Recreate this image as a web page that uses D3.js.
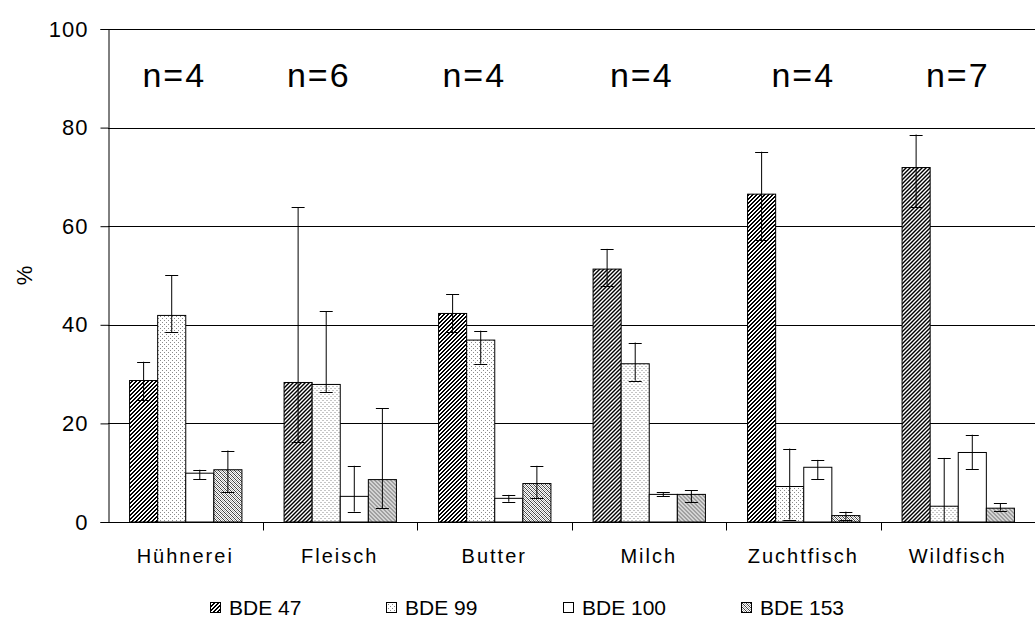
<!DOCTYPE html>
<html>
<head>
<meta charset="utf-8">
<script src="https://cdn.jsdelivr.net/npm/d3@7"></script>
<style>
  html, body { margin: 0; padding: 0; background: #fff; }
  svg { display: block; font-family: "Liberation Sans", Arial, sans-serif; }
</style>
</head>
<body>
<svg id="chart" width="1035" height="624"></svg>
<script>
// Food categories and congener series (share of total PBDE, %)
const categories = ["Hühnerei", "Fleisch", "Butter", "Milch", "Zuchtfisch", "Wildfisch"];
const series = ["BDE 47", "BDE 99", "BDE 100", "BDE 153"];
const sampleCounts = [4, 6, 4, 4, 4, 7];

const bde47 = [28.7, 28.3, 42.3, 51.3, 66.5, 71.9];
const bde47High = [32.5, 63.8, 46.2, 55.4, 75.1, 78.6];
const bde47Low = [24.7, 16.2, 38.5, 47.9, 57.2, 63.8];

const bde99 = [41.9, 27.9, 36.9, 32.1, 7.2, 3.2];
const bde99High = [50.1, 42.7, 38.8, 36.4, 14.9, 13.0];
const bde99Low = [38.5, 26.3, 32.1, 28.7, 0.5, 0];

const bde100 = [9.9, 5.2, 4.8, 5.6, 11.1, 14.1];
const bde100High = [10.6, 11.4, 5.5, 6.0, 12.6, 17.7];
const bde100Low = [8.7, 2.1, 4.1, 5.2, 8.7, 10.7];

const bde153 = [10.6, 8.6, 7.8, 5.6, 1.3, 2.8];
const bde153High = [14.5, 23.1, 11.4, 6.4, 2.1, 3.8];
const bde153Low = [6.0, 2.8, 4.8, 4.0, 0.5, 2.3];

const yTicks = [0, 20, 40, 60, 80, 100];

const seriesValues = [bde47, bde99, bde100, bde153];
const seriesHigh = [bde47High, bde99High, bde100High, bde153High];
const seriesLow = [bde47Low, bde99Low, bde100Low, bde153Low];

// horizontal nudges of the n= annotations, in px
const nLabelShift = [-11, -21, -20, -7, 0, 0];

const svg = d3.select("#chart");
const plotLeft = 108, plotRight = 1035, plotTop = 29, plotBottom = 522;

const x0 = d3.scaleBand().domain(categories).range([plotLeft, plotRight]).padding(0);
const x1 = d3.scaleBand().domain(series).range([0, x0.bandwidth()])
  .paddingInner(0).paddingOuter(0.75);
const y = d3.scaleLinear().domain([0, 100]).range([plotBottom, plotTop]);

// ---- fill patterns built pixel by pixel ----
const defs = svg.append("defs");
function pixelPattern(id, size, bg, cells) {
  const p = defs.append("pattern").attr("id", id)
    .attr("patternUnits", "userSpaceOnUse")
    .attr("width", size).attr("height", size);
  p.append("rect").attr("width", size).attr("height", size).attr("fill", bg);
  for (let i = 0; i < size; i++) for (let j = 0; j < size; j++) {
    const c = cells(i, j);
    if (c) p.append("rect").attr("x", i).attr("y", j).attr("width", 1).attr("height", 1)
      .attr("fill", c).attr("shape-rendering", "crispEdges");
  }
}
// dark upward diagonal
pixelPattern("pat47", 4, "#fff", (i, j) => ((i + j) % 4) < 2 ? "#000" : null);
// sparse dots
pixelPattern("pat99", 4, "#fff", (i, j) => (i === 0 && j === 0) || (i === 2 && j === 2) ? "#8a8a8a" : null);
// fine downward diagonal hatch
pixelPattern("pat153", 4, "#fff", (i, j) => {
  const k = (i - j + 8) % 4;
  return k === 0 ? "#404040" : k === 2 ? "#a8a8a8" : null;
});
const fills = ["url(#pat47)", "url(#pat99)", "#fff", "url(#pat153)"];

// ---- gridlines ----
svg.append("g").selectAll("line").data(yTicks.filter(t => t > 0)).join("line")
  .attr("x1", plotLeft).attr("x2", plotRight)
  .attr("y1", d => Math.round(y(d)) + 0.5).attr("y2", d => Math.round(y(d)) + 0.5)
  .attr("stroke", "#000").attr("stroke-width", 1);

// ---- bars ----
const groups = svg.append("g").selectAll("g").data(categories).join("g")
  .attr("transform", d => `translate(${x0(d)},0)`);

series.forEach((s, si) => {
  groups.append("rect")
    .attr("x", x1(s) + 0.5)
    .attr("y", (d, ci) => y(seriesValues[si][ci]))
    .attr("width", x1.bandwidth())
    .attr("height", (d, ci) => plotBottom - y(seriesValues[si][ci]))
    .attr("fill", fills[si])
    .attr("stroke", "#000").attr("stroke-width", 1);
});

// ---- error bars ----
const capHalf = 6.5;
series.forEach((s, si) => {
  const cx = x1(s) + x1.bandwidth() / 2 + 0.5;
  const eg = groups.append("g").attr("stroke", "#000").attr("stroke-width", 1).attr("fill", "none");
  eg.append("line")
    .attr("x1", cx).attr("x2", cx)
    .attr("y1", (d, ci) => y(seriesHigh[si][ci]))
    .attr("y2", (d, ci) => y(Math.max(0, seriesLow[si][ci])));
  eg.append("line")
    .attr("x1", cx - capHalf).attr("x2", cx + capHalf)
    .attr("y1", (d, ci) => Math.round(y(seriesHigh[si][ci])) + 0.5)
    .attr("y2", (d, ci) => Math.round(y(seriesHigh[si][ci])) + 0.5);
  eg.filter((d, ci) => seriesLow[si][ci] > 0).append("line")
    .attr("x1", cx - capHalf).attr("x2", cx + capHalf)
    .attr("y1", (d, ci) => Math.round(y(seriesLow[si][ci])) + 0.5)
    .attr("y2", (d, ci) => Math.round(y(seriesLow[si][ci])) + 0.5);
});

// ---- y axis ----
const yAxis = d3.axisLeft(y).tickValues(yTicks).tickSize(8).tickPadding(12);
const gy = svg.append("g").attr("transform", `translate(${plotLeft + 0.5},0)`).call(yAxis);
gy.select(".domain").attr("stroke", "#000");
gy.selectAll(".tick line").attr("stroke", "#000");
gy.selectAll(".tick text").attr("font-size", 22).attr("fill", "#000")
  .attr("letter-spacing", 1)
  .attr("font-family", "Liberation Sans, Arial, sans-serif");

// ---- x axis with category boundary ticks ----
const gx = svg.append("g").attr("transform", `translate(0,${plotBottom + 0.5})`);
gx.append("line").attr("x1", plotLeft).attr("x2", plotRight).attr("stroke", "#000");
gx.selectAll("line.sep").data(categories.slice(1)).join("line").attr("class", "sep")
  .attr("x1", d => Math.round(x0(d)) + 0.5).attr("x2", d => Math.round(x0(d)) + 0.5)
  .attr("y1", 0).attr("y2", 8).attr("stroke", "#000");
gx.selectAll("text").data(categories).join("text")
  .attr("x", d => x0(d) + x0.bandwidth() / 2)
  .attr("y", 40)
  .attr("text-anchor", "middle")
  .attr("font-size", 20).attr("letter-spacing", 2)
  .text(d => d);

// ---- y axis title ----
svg.append("text")
  .attr("transform", `translate(32,${(plotTop + plotBottom) / 2}) rotate(-90)`)
  .attr("text-anchor", "middle")
  .attr("font-size", 22)
  .text("%");

// ---- sample size annotations ----
svg.append("g").selectAll("text").data(categories).join("text")
  .attr("x", (d, i) => x0(d) + x0.bandwidth() / 2 + nLabelShift[i])
  .attr("y", 87)
  .attr("text-anchor", "middle")
  .attr("font-size", 34)
  .attr("letter-spacing", 2)
  .text((d, i) => "n=" + sampleCounts[i]);

// ---- legend ----
const legendX = [210, 386, 563, 741];
const lg = svg.append("g").selectAll("g").data(series).join("g")
  .attr("transform", (d, i) => `translate(${legendX[i]},602)`);
lg.append("rect").attr("x", 0.5).attr("y", 0.5).attr("width", 10).attr("height", 10)
  .attr("fill", (d, i) => fills[i]).attr("stroke", "#000").attr("stroke-width", 1);
lg.append("text").attr("x", 19).attr("y", 13)
  .attr("font-size", 21)
  .text(d => d);
</script>
</body>
</html>
